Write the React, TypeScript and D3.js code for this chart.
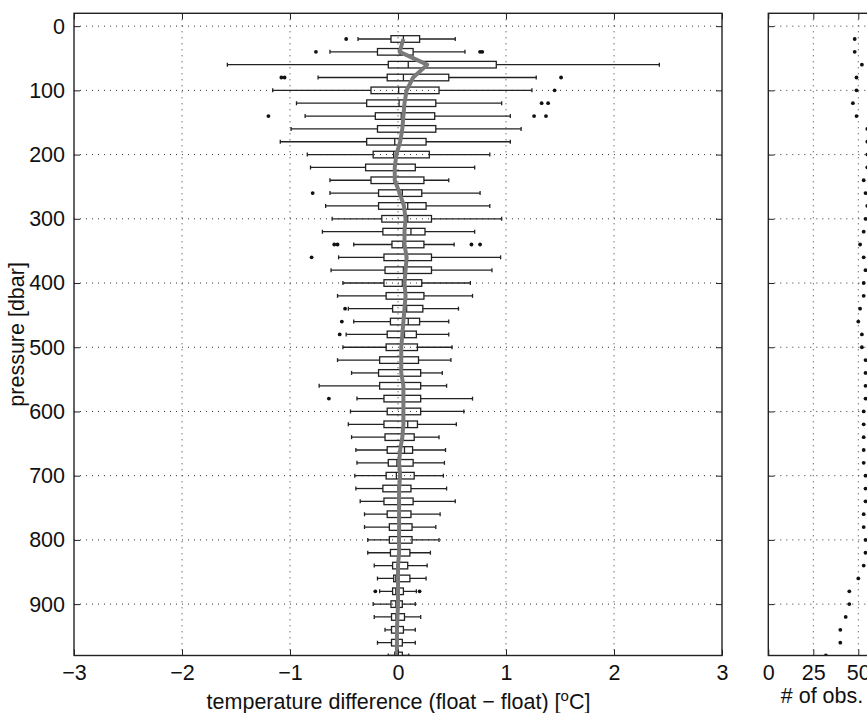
import React, { useEffect, useRef } from 'react'
import * as d3 from 'd3'

const W = 867
const H = 713
const FONT = '"Liberation Sans", Arial, Helvetica, sans-serif'
const FS = 21.5

// pressure levels [dbar]
const pressure = [
  20, 40, 60, 80, 100, 120, 140, 160, 180, 200, 220, 240, 260, 280, 300, 320, 340,
  360, 380, 400, 420, 440, 460, 480, 500, 520, 540, 560, 580, 600, 620, 640, 660,
  680, 700, 720, 740, 760, 780, 800, 820, 840, 860, 880, 900, 920, 940, 960, 980,
]

// box plot statistics of temperature difference [°C]
const whiskerLo = [
  -0.37, -0.63, -1.58, -0.74, -1.16, -0.94, -0.86, -0.99, -1.09, -0.84, -0.81, -0.63, -0.63, -0.67, -0.61, -0.70, -0.41,
  -0.55, -0.62, -0.51, -0.56, -0.46, -0.41, -0.48, -0.51, -0.56, -0.43, -0.73, -0.38, -0.44, -0.46, -0.43, -0.39,
  -0.38, -0.40, -0.39, -0.35, -0.31, -0.31, -0.28, -0.28, -0.22, -0.19, -0.17, -0.23, -0.22, -0.12, -0.19, -0.09,
]
const q1 = [
  -0.065, -0.19, -0.09, -0.10, -0.25, -0.29, -0.21, -0.19, -0.29, -0.23, -0.30, -0.25, -0.18, -0.18, -0.15, -0.14, -0.056,
  -0.13, -0.12, -0.13, -0.11, -0.05, -0.07, -0.10, -0.11, -0.17, -0.18, -0.17, -0.13, -0.10, -0.13, -0.12, -0.10,
  -0.09, -0.11, -0.14, -0.13, -0.10, -0.08, -0.08, -0.07, -0.05, -0.04, -0.05, -0.065, -0.06, -0.06, -0.06, -0.03,
]
const median = [
  0.05, 0.02, 0.095, 0.05, 0.006, 0.01, 0.03, 0.04, -0.03, -0.04, -0.035, -0.035, 0.04, 0.09, 0.09, 0.12, 0.046,
  0.07, 0.05, 0.04, 0.07, 0.08, 0.095, 0.06, 0.04, 0.04, 0.03, 0.046, 0.046, 0.046, 0.09, 0.05, 0.06,
  -0.01, -0.015, 0.0, 0.0, 0.01, 0.01, 0.0, 0.01, 0.0, -0.02, -0.02, -0.02, -0.02, -0.01, -0.01, 0.0,
]
const q3 = [
  0.2, 0.14, 0.91, 0.47, 0.38, 0.35, 0.34, 0.35, 0.26, 0.29, 0.16, 0.24, 0.22, 0.26, 0.31, 0.25, 0.24,
  0.31, 0.31, 0.22, 0.24, 0.23, 0.2, 0.17, 0.18, 0.19, 0.21, 0.21, 0.21, 0.21, 0.18, 0.15, 0.135,
  0.14, 0.15, 0.12, 0.14, 0.12, 0.13, 0.13, 0.11, 0.09, 0.11, 0.05, 0.04, 0.06, 0.05, 0.04, 0.04,
]
const whiskerHi = [
  0.53, 0.62, 2.42, 1.28, 1.24, 0.96, 1.04, 1.14, 1.04, 0.85, 0.71, 0.47, 0.76, 0.85, 0.96, 0.71, 0.52,
  0.95, 0.87, 0.67, 0.69, 0.56, 0.47, 0.47, 0.5, 0.49, 0.41, 0.45, 0.69, 0.61, 0.54, 0.38, 0.44,
  0.43, 0.42, 0.45, 0.53, 0.39, 0.35, 0.38, 0.3, 0.27, 0.26, 0.17, 0.16, 0.21, 0.16, 0.16, 0.1,
]
// mean difference profile (grey line)
const meanDiff = [
  0.05, 0.015, 0.27, 0.14, 0.08, 0.06, 0.05, 0.04, 0.02, -0.015, -0.03, -0.03, 0.015, 0.055, 0.07, 0.06, 0.06,
  0.08, 0.07, 0.06, 0.07, 0.06, 0.05, 0.04, 0.03, 0.03, 0.03, 0.05, 0.05, 0.05, 0.05, 0.04, 0.02,
  0.01, 0.02, 0.01, 0.01, 0.01, 0.01, 0.01, 0.01, 0.0, 0.0, 0.0, 0.0, -0.005, -0.01, -0.01, -0.01,
]
// outliers
const outlierP = [
  20, 40, 40, 40, 80, 80, 80, 100, 120, 120, 140, 140, 140, 260, 340, 340, 340, 340,
  360, 440, 460, 480, 580, 880, 880,
]
const outlierV = [
  -0.48, -0.76, 0.76, 0.78, -1.08, -1.05, 1.51, 1.45, 1.33, 1.39, -1.2, 1.26, 1.37, -0.79, -0.59, -0.56, 0.68, 0.76,
  -0.8, -0.49, -0.52, -0.54, -0.64, -0.21, 0.2,
]
// number of observations per level
const obsCount = [
  48, 48, 52, 49, 49, 47, 49, 55, 55, 55, 55, 53, 54, 55, 54, 53, 51,
  53, 54, 53, 53, 51, 50, 52, 52, 54, 54, 54, 54, 53, 53, 53, 53,
  53, 54, 54, 54, 53, 53, 54, 54, 53, 50, 45, 45, 43, 40, 40, 32,
]

const xTicks = [-3, -2, -1, 0, 1, 2, 3]
const yTicks = [0, 100, 200, 300, 400, 500, 600, 700, 800, 900]
const obsTicks = [0, 25, 50]

const App = () => {
  const svgRef = useRef(null)

  useEffect(() => {
    const svg = d3.select(svgRef.current)
    svg.selectAll('*').remove()

    const top = 13.3
    const bottom = 655.5
    const x = d3.scaleLinear().domain([-3, 3]).range([74, 722])
    const y = d3.scaleLinear().domain([-20, 980]).range([top, bottom])
    const xo = d3.scaleLinear().domain([0, 60]).range([768.3, 876.3])
    const fmt = d3.format('d')

    const ink = '#222'
    const gridStyle = (sel) => sel
      .attr('stroke', '#333')
      .attr('stroke-width', 1)
      .attr('stroke-dasharray', '1 5')

    const defs = svg.append('defs')
    defs.append('clipPath').attr('id', 'clipL')
      .append('rect').attr('x', 74).attr('y', top).attr('width', 648).attr('height', bottom - top)
    defs.append('clipPath').attr('id', 'clipR')
      .append('rect').attr('x', 768.3).attr('y', top).attr('width', 108).attr('height', bottom - top)

    svg.append('rect').attr('width', W).attr('height', H).attr('fill', 'white')

    // ---- left panel ----
    const gL = svg.append('g')
    gL.selectAll('.vgrid').data(xTicks.slice(1, -1)).enter().append('line')
      .attr('x1', d => x(d)).attr('x2', d => x(d)).attr('y1', top).attr('y2', bottom)
      .call(gridStyle)
    gL.selectAll('.hgrid').data(yTicks).enter().append('line')
      .attr('x1', 74).attr('x2', 722).attr('y1', d => y(d)).attr('y2', d => y(d))
      .call(gridStyle)

    const plot = gL.append('g').attr('clip-path', 'url(#clipL)')
    const bh = 3.3
    const cap = 2
    const rows = pressure.map((p, i) => ({ p, lo: whiskerLo[i], a: q1[i], m: median[i], b: q3[i], hi: whiskerHi[i] }))
    const row = plot.selectAll('.row').data(rows).enter().append('g')
      .attr('stroke', ink).attr('stroke-width', 1.3).attr('fill', 'none')
    row.append('line').attr('x1', d => x(d.lo)).attr('x2', d => x(d.a)).attr('y1', d => y(d.p)).attr('y2', d => y(d.p))
    row.append('line').attr('x1', d => x(d.b)).attr('x2', d => x(d.hi)).attr('y1', d => y(d.p)).attr('y2', d => y(d.p))
    row.append('line').attr('x1', d => x(d.lo)).attr('x2', d => x(d.lo)).attr('y1', d => y(d.p) - cap).attr('y2', d => y(d.p) + cap)
    row.append('line').attr('x1', d => x(d.hi)).attr('x2', d => x(d.hi)).attr('y1', d => y(d.p) - cap).attr('y2', d => y(d.p) + cap)
    row.append('rect').attr('x', d => x(d.a)).attr('width', d => x(d.b) - x(d.a))
      .attr('y', d => y(d.p) - bh).attr('height', bh * 2)
    row.append('line').attr('x1', d => x(d.m)).attr('x2', d => x(d.m)).attr('y1', d => y(d.p) - bh).attr('y2', d => y(d.p) + bh)

    plot.selectAll('.out').data(outlierP).enter().append('circle')
      .attr('cx', (d, i) => x(outlierV[i])).attr('cy', d => y(d)).attr('r', 1.9).attr('fill', '#111')

    const line = d3.line().x(d => x(d[1])).y(d => y(d[0]))
    plot.append('path').datum(pressure.map((p, i) => [p, meanDiff[i]]))
      .attr('d', line).attr('fill', 'none').attr('stroke', '#7a7a7a').attr('stroke-width', 4)
      .attr('stroke-linejoin', 'round')

    // axes, left panel
    const axisStyle = (g) => {
      g.select('.domain').remove()
      g.selectAll('.tick line').attr('stroke', ink).attr('stroke-width', 1)
      g.selectAll('text').attr('font-family', FONT).attr('font-size', FS).attr('fill', '#111')
    }
    gL.append('g').attr('transform', `translate(0,${bottom})`)
      .call(d3.axisBottom(x).tickValues(xTicks).tickSizeInner(-6).tickSizeOuter(0).tickPadding(9.7).tickFormat(fmt))
      .call(axisStyle)
    gL.append('g').attr('transform', `translate(0,${top})`)
      .call(d3.axisTop(x).tickValues(xTicks).tickSizeInner(-6).tickSizeOuter(0).tickFormat(() => ''))
      .call(axisStyle)
    gL.append('g').attr('transform', 'translate(74,0)')
      .call(d3.axisLeft(y).tickValues(yTicks).tickSizeInner(-6).tickSizeOuter(0).tickPadding(9).tickFormat(fmt))
      .call(axisStyle)
    gL.append('g').attr('transform', 'translate(722,0)')
      .call(d3.axisRight(y).tickValues(yTicks).tickSizeInner(-6).tickSizeOuter(0).tickFormat(() => ''))
      .call(axisStyle)
    gL.append('rect').attr('x', 74).attr('y', top).attr('width', 648).attr('height', bottom - top)
      .attr('fill', 'none').attr('stroke', ink).attr('stroke-width', 1.4)

    const xl = gL.append('text').attr('x', 398.5).attr('y', 709).attr('text-anchor', 'middle')
      .attr('font-family', FONT).attr('font-size', FS).attr('fill', '#111')
    xl.append('tspan').text('temperature difference (float \u2212 float) [')
    xl.append('tspan').attr('font-size', 15).attr('dy', -8).text('o')
    xl.append('tspan').attr('dy', 8).text('C]')

    gL.append('text').attr('transform', `translate(24,${(top + bottom) / 2}) rotate(-90)`)
      .attr('text-anchor', 'middle').attr('font-family', FONT).attr('font-size', FS).attr('fill', '#111')
      .text('pressure [dbar]')

    // ---- right panel ----
    const gR = svg.append('g')
    gR.selectAll('.vgrid').data(obsTicks.slice(1)).enter().append('line')
      .attr('x1', d => xo(d)).attr('x2', d => xo(d)).attr('y1', top).attr('y2', bottom)
      .call(gridStyle)
    gR.selectAll('.hgrid').data(yTicks).enter().append('line')
      .attr('x1', 768.3).attr('x2', 876.3).attr('y1', d => y(d)).attr('y2', d => y(d))
      .call(gridStyle)
    gR.append('g').attr('clip-path', 'url(#clipR)')
      .selectAll('circle').data(pressure).enter().append('circle')
      .attr('cx', (d, i) => xo(obsCount[i])).attr('cy', d => y(d)).attr('r', 1.9).attr('fill', '#111')

    gR.append('g').attr('transform', `translate(0,${bottom})`)
      .call(d3.axisBottom(xo).tickValues(obsTicks).tickSizeInner(-6).tickSizeOuter(0).tickPadding(9.7).tickFormat(fmt))
      .call(axisStyle)
    gR.append('g').attr('transform', `translate(0,${top})`)
      .call(d3.axisTop(xo).tickValues(obsTicks).tickSizeInner(-6).tickSizeOuter(0).tickFormat(() => ''))
      .call(axisStyle)
    gR.append('g').attr('transform', 'translate(768.3,0)')
      .call(d3.axisLeft(y).tickValues(yTicks).tickSizeInner(-6).tickSizeOuter(0).tickFormat(() => ''))
      .call(axisStyle)
    gR.append('rect').attr('x', 768.3).attr('y', top).attr('width', 108).attr('height', bottom - top)
      .attr('fill', 'none').attr('stroke', ink).attr('stroke-width', 1.4)

    gR.append('text').attr('x', 822).attr('y', 703).attr('text-anchor', 'middle')
      .attr('font-family', FONT).attr('font-size', FS).attr('fill', '#111')
      .text('# of obs.')
  }, [])

  return (
    <svg ref={svgRef} width={W} height={H} style={{ position: 'absolute', left: 0, top: 0 }} />
  )
}

export default App
